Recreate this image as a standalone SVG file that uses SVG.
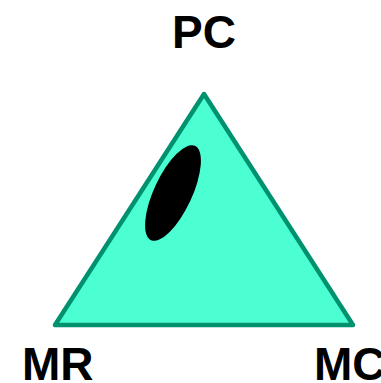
<svg xmlns="http://www.w3.org/2000/svg" width="381" height="383" viewBox="0 0 381 383">
<style>
.lbl{font-family:"Liberation Sans",Arial,sans-serif;font-weight:bold;font-size:46px;fill:#000}
</style>
<rect width="381" height="383" fill="#fff"/>
<g id="triangle">
<polygon points="204,94 55,325 353,325" fill="#4cffd2" stroke="#00916f" stroke-width="4.5" stroke-linejoin="round"/>
</g>
<g id="region">
<ellipse cx="173" cy="193" rx="19" ry="52" transform="rotate(25 173 193)" fill="#000"/>
</g>
<g id="labels">
<text class="lbl" x="204" y="48" text-anchor="middle">PC</text>
<text class="lbl" x="22" y="380">MR</text>
<text class="lbl" x="314" y="380">MC</text>
</g>
</svg>
